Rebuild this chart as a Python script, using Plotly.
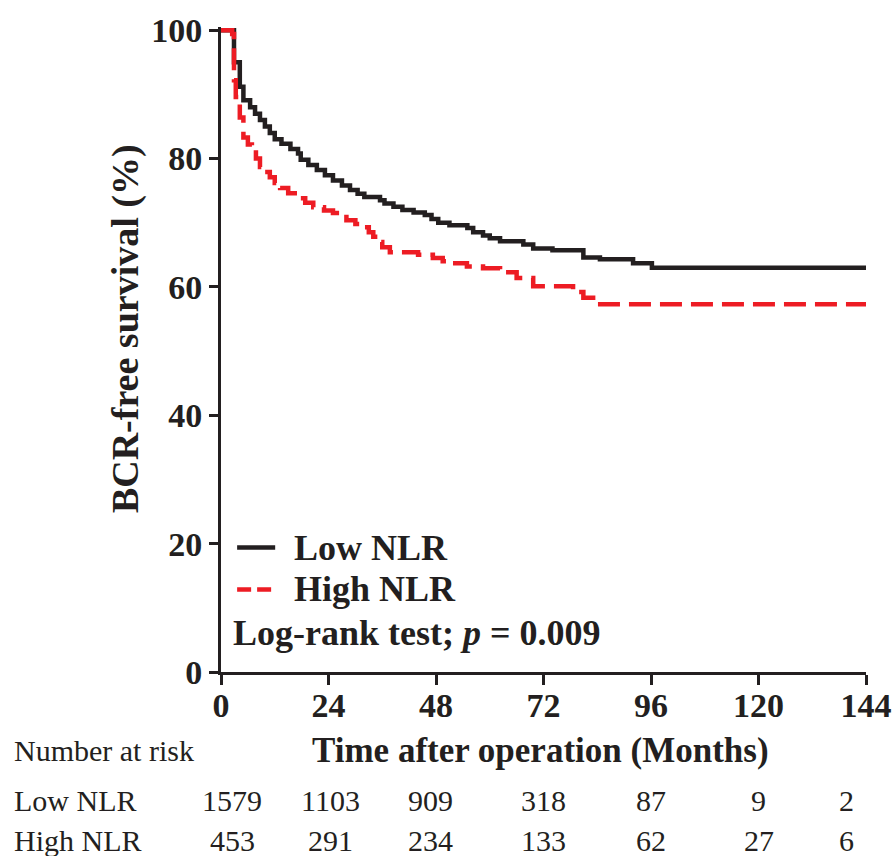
import plotly.graph_objects as go

# ---- data ----
low_t = [0, 2.9, 4.2, 5.0, 6.5, 7.6, 8.7, 9.8, 10.9, 12.0, 13.5, 15.5, 17.2, 17.8, 19.5,
         21.4, 23.2, 25.0, 27.0, 28.8, 30.5, 32.0, 35.5, 36.5, 38.5, 40.5, 43.0, 45.5,
         47.0, 48.5, 51.0, 55.0, 56.3, 58.5, 60.0, 62.3, 67.5, 69.7, 74.0, 80.9, 84.6,
         92.0, 96.2, 144]
low_s = [100, 95.0, 91.2, 89.1, 88.0, 87.0, 86.0, 85.0, 84.0, 83.0, 82.3, 81.5, 80.8, 79.8, 79.0,
         78.2, 77.4, 76.6, 75.8, 75.1, 74.5, 74.0, 73.5, 73.0, 72.5, 72.0, 71.6, 71.2,
         70.6, 70.0, 69.6, 69.2, 68.5, 68.0, 67.6, 67.1, 66.6, 66.0, 65.7, 64.6, 64.3,
         63.7, 63.0, 63.0]

high_t = [0, 2.5, 2.9, 3.3, 4.2, 5.0, 6.0, 6.9, 7.8, 8.7, 9.8, 10.9, 12.0, 13.2, 15.0, 17.0,
          18.8, 20.6, 23.0, 25.0, 28.0, 30.0, 31.7, 33.0, 34.0, 35.0, 36.0, 37.7, 44.0, 47.3,
          49.5, 51.8, 54.9, 58.5, 62.3, 66.0, 69.7, 78.6, 80.9, 84.0, 144]
high_s = [100, 99.4, 92.2, 89.6, 86.4, 83.3, 82.2, 81.3, 80.0, 78.7, 77.9, 77.1, 76.2, 75.4, 74.6, 73.8,
          73.1, 72.4, 71.9, 71.5, 70.4, 69.8, 69.3, 68.5, 67.8, 67.0, 66.2, 65.4, 65.0, 64.5,
          64.0, 63.7, 63.2, 62.9, 62.3, 61.4, 60.1, 59.2, 58.3, 57.3, 57.3]

x_ticks = [0, 24, 48, 72, 96, 120, 144]
y_ticks = [0, 20, 40, 60, 80, 100]
risk_low = [1579, 1103, 909, 318, 87, 9, 2]
risk_high = [453, 291, 234, 133, 62, 27, 6]
risk_xshift = [11, 2, -6, 0, 0, 0, -20]

series_names = ["Low NLR", "High NLR"]

FONT = "Liberation Serif, Times New Roman, serif"
BLACK = "#231F20"
RED = "#ED1C24"
DASH = "22px,9px"

fig = go.Figure()
fig.add_trace(go.Scatter(x=low_t, y=low_s, mode="lines", name=series_names[0],
                         line=dict(shape="hv", color=BLACK, width=4.5)))
fig.add_trace(go.Scatter(x=high_t, y=high_s, mode="lines", name=series_names[1],
                         line=dict(shape="hv", color=RED, width=4.5, dash=DASH)))

fig.update_layout(
    width=894, height=856,
    margin=dict(l=221, r=28, t=27, b=184, autoexpand=False),
    paper_bgcolor="white", plot_bgcolor="white",
    font=dict(family=FONT, color=BLACK),
    showlegend=False,
)
fig.update_xaxes(range=[0, 144], tickvals=x_ticks, ticks="outside", ticklen=10, tickwidth=3,
                 tickcolor=BLACK, showline=True, linewidth=3, linecolor=BLACK,
                 showgrid=False, zeroline=False, automargin=False, ticklabelstandoff=-9,
                 tickfont=dict(family=FONT, size=34, color=BLACK, weight="bold"))
fig.update_yaxes(range=[0, 100.5], tickvals=y_ticks, ticks="outside", ticklen=9, tickwidth=3,
                 tickcolor=BLACK, showline=True, linewidth=3, linecolor=BLACK,
                 showgrid=False, zeroline=False, automargin=False,
                 tickfont=dict(family=FONT, size=34, color=BLACK, weight="bold"))

# legend keys (drawn manually for exact spacing)
legend_rows = [(series_names[0], BLACK, "solid", 0.193), (series_names[1], RED, "14px,6px", 0.128)]
shapes = []
ann = []
for name, col, dash, yv in legend_rows:
    shapes.append(dict(type="line", xref="paper", yref="paper", x0=0.025, x1=0.084, y0=yv, y1=yv,
                       line=dict(color=col, width=4.5, dash=dash)))
    ann.append(dict(text=name, xref="paper", yref="paper", x=0.110, y=yv,
                    showarrow=False, xanchor="left", yanchor="middle",
                    font=dict(family=FONT, size=36, color=BLACK, weight="bold")))

ann.append(dict(text="BCR-free survival (%)", xref="paper", yref="paper", x=-0.149, y=0.533,
                textangle=-90, showarrow=False, xanchor="center", yanchor="middle",
                font=dict(family=FONT, size=38, color=BLACK, weight="bold")))
ann.append(dict(text="Time after operation (Months)", xref="paper", yref="paper", x=0.495, y=-0.1215,
                showarrow=False, xanchor="center", yanchor="middle",
                font=dict(family=FONT, size=35, color=BLACK, weight="bold")))
ann.append(dict(text="Log-rank test; <i>p</i> = 0.009", xref="paper", yref="paper", x=0.016, y=0.061,
                showarrow=False, xanchor="left", yanchor="middle",
                font=dict(family=FONT, size=36, color=BLACK, weight="bold")))
ann.append(dict(text="Number at risk", xref="paper", yref="paper", x=-0.324, y=-0.1215,
                showarrow=False, xanchor="left", yanchor="middle",
                font=dict(family=FONT, size=30, color=BLACK)))
for label, row, yv in [(series_names[0], risk_low, -0.1994), (series_names[1], risk_high, -0.2617)]:
    ann.append(dict(text=label, xref="paper", yref="paper", x=-0.324, y=yv,
                    showarrow=False, xanchor="left", yanchor="middle",
                    font=dict(family=FONT, size=30, color=BLACK)))
    for xv, n, sh in zip(x_ticks, row, risk_xshift):
        ann.append(dict(text=str(n), xref="x", yref="paper", x=xv, y=yv, xshift=sh,
                        showarrow=False, xanchor="center", yanchor="middle",
                        font=dict(family=FONT, size=30, color=BLACK)))
fig.update_layout(annotations=ann, shapes=shapes)

fig.write_html("out.html", config={"displayModeBar": False},
               post_script="document.body.style.margin='0';document.body.style.padding='0';")
